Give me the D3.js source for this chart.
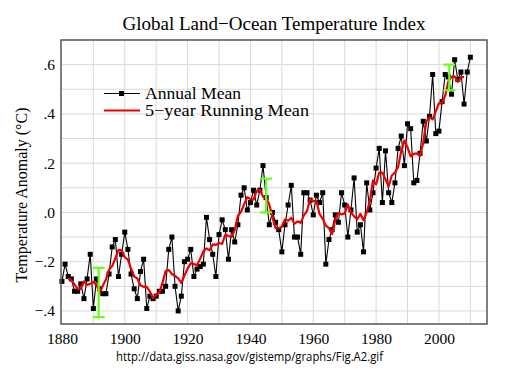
<!DOCTYPE html>
<html>
<head>
<meta charset="utf-8">
<script src="https://cdn.jsdelivr.net/npm/d3@7"></script>
<style>
  html, body { margin: 0; padding: 0; background: #fff; }
  svg { display: block; }
</style>
</head>
<body>
<svg id="chart" width="509" height="381"></svg>
<script>
// ---- data ----
const years = d3.range(1880, 2011);
const annualMean = [
  -0.28,-0.21,-0.26,-0.27,-0.32,-0.32,-0.29,-0.35,-0.27,-0.17,
  -0.39,-0.27,-0.31,-0.33,-0.33,-0.25,-0.14,-0.11,-0.26,-0.17,
  -0.08,-0.15,-0.25,-0.31,-0.35,-0.24,-0.19,-0.39,-0.34,-0.35,
  -0.34,-0.32,-0.32,-0.30,-0.15,-0.10,-0.30,-0.40,-0.34,-0.20,
  -0.19,-0.15,-0.26,-0.23,-0.22,-0.21,-0.02,-0.11,-0.17,-0.26,
  -0.09,-0.03,-0.07,-0.19,-0.07,-0.12,-0.05, 0.07, 0.10, 0.01,
   0.04, 0.09, 0.03, 0.09, 0.19, 0.06,-0.05, 0.00,-0.04,-0.07,
  -0.16,-0.05, 0.03, 0.11,-0.10,-0.10,-0.17, 0.08, 0.08, 0.05,
  -0.01, 0.07, 0.04, 0.08,-0.21,-0.11,-0.07,-0.01,-0.04, 0.08,
   0.03,-0.10, 0.01, 0.14,-0.08,-0.05,-0.16, 0.12, 0.01, 0.08,
   0.18, 0.26, 0.04, 0.25, 0.08, 0.04, 0.12, 0.26, 0.31, 0.19,
   0.36, 0.34, 0.12, 0.13, 0.24, 0.37, 0.29, 0.39, 0.56, 0.32,
   0.33, 0.45, 0.56, 0.55, 0.48, 0.62, 0.54, 0.57, 0.44, 0.57,
   0.63
];
const runYears = d3.range(1882, 2009);
const runningMean = [
  -0.268,-0.276,-0.292,-0.310,-0.310,-0.280,-0.294,-0.290,-0.282,-0.294,
  -0.326,-0.298,-0.272,-0.232,-0.218,-0.186,-0.152,-0.154,-0.182,-0.192,
  -0.228,-0.260,-0.268,-0.296,-0.302,-0.302,-0.322,-0.348,-0.334,-0.326,
  -0.286,-0.238,-0.234,-0.250,-0.258,-0.268,-0.286,-0.256,-0.228,-0.206,
  -0.210,-0.214,-0.188,-0.158,-0.146,-0.154,-0.130,-0.132,-0.124,-0.128,
  -0.090,-0.096,-0.100,-0.072,-0.014, 0.002, 0.034, 0.062, 0.054, 0.052,
   0.088, 0.092, 0.064, 0.058, 0.032,-0.020,-0.064,-0.064,-0.058,-0.028,
  -0.034,-0.022,-0.046,-0.036,-0.042,-0.012, 0.006, 0.054, 0.046, 0.046,
  -0.006,-0.026,-0.054,-0.064,-0.088,-0.030,-0.002,-0.008,-0.004, 0.032,
   0.000,-0.016,-0.028,-0.006,-0.032, 0.000, 0.046, 0.130, 0.114, 0.162,
   0.162, 0.134, 0.106, 0.150, 0.162, 0.184, 0.248, 0.292, 0.264, 0.228,
   0.238, 0.240, 0.230, 0.284, 0.370, 0.386, 0.378, 0.410, 0.444, 0.442,
   0.474, 0.532, 0.550, 0.552, 0.530, 0.548, 0.550
];
const errorYears = [1891.7, 1945, 2003.3];
const errorLow   = [-0.425, 0.000, 0.496];
const errorHigh  = [-0.225, 0.137, 0.600];
const xTickYears = [1880, 1900, 1920, 1940, 1960, 1980, 2000];
const yTickValues = [-0.4, -0.2, 0.0, 0.2, 0.4, 0.6];
const yTickLabels = ["\u2212.4", "\u2212.2", ".0", ".2", ".4", ".6"];
const titleText = "Global Land\u2212Ocean Temperature Index";
const yAxisTitle = "Temperature Anomaly (\u00B0C)";
const legendLabels = ["Annual Mean", "5\u2212year Running Mean"];
const sourceText = "http://data.giss.nasa.gov/gistemp/graphs/Fig.A2.gif";

// ---- layout ----
const svg = d3.select("#chart");
const L = 61, R = 487, T = 40, B = 324;
const x = d3.scaleLinear().domain([1879.7, 2015.3]).range([L, R]);
const y = d3.scaleLinear().domain([-0.453, 0.700]).range([B, T]);
const serif = "'Liberation Serif', 'Times New Roman', serif";

// grid
const grid = svg.append("g");
grid.selectAll("line.v").data(d3.range(1890, 2015, 10)).join("line")
  .attr("x1", d => x(d)).attr("x2", d => x(d)).attr("y1", T).attr("y2", B)
  .attr("stroke", "#d9d9d9").attr("stroke-width", 1);
grid.selectAll("line.h").data(d3.range(-4, 7).map(d => d / 10)).join("line")
  .attr("x1", L).attr("x2", R).attr("y1", d => y(d)).attr("y2", d => y(d))
  .attr("stroke", "#d9d9d9").attr("stroke-width", 1);

// axes (tick labels via d3 axes, no domain lines)
const xAxis = d3.axisBottom(x).tickValues(xTickYears).tickFormat(d3.format("d")).tickSize(0).tickPadding(9);
const gx = svg.append("g").attr("transform", `translate(0,${B})`).call(xAxis);
gx.select(".domain").remove();
gx.selectAll("text").attr("font-family", serif).attr("font-size", 15.5).attr("fill", "#000");

const yAxis = d3.axisLeft(y).tickValues(yTickValues)
  .tickFormat((d, i) => yTickLabels[i]).tickSize(0).tickPadding(6);
const gy = svg.append("g").attr("transform", `translate(${L},0)`).call(yAxis);
gy.select(".domain").remove();
gy.selectAll("text").attr("font-family", serif).attr("font-size", 15.5).attr("fill", "#000");

// annual mean line + markers
const annual = years.map((yr, i) => [yr, annualMean[i]]);
svg.append("path").datum(annual)
  .attr("d", d3.line().x(d => x(d[0])).y(d => y(d[1])))
  .attr("fill", "none").attr("stroke", "#000").attr("stroke-width", 1.1);
svg.append("g").selectAll("rect").data(annual).join("rect")
  .attr("x", d => x(d[0]) - 2.5).attr("y", d => y(d[1]) - 2.5)
  .attr("width", 5).attr("height", 5).attr("fill", "#000");

// running mean
const running = runYears.map((yr, i) => [yr, runningMean[i]]);
svg.append("path").datum(running)
  .attr("d", d3.line().x(d => x(d[0])).y(d => y(d[1])))
  .attr("fill", "none").attr("stroke", "#ee0000").attr("stroke-width", 2.2)
  .attr("stroke-linejoin", "round");

// uncertainty bars
const eb = svg.append("g").attr("stroke", "#66ff1a").attr("stroke-width", 2.2);
errorYears.forEach((yr, i) => {
  const cx = x(yr);
  eb.append("line").attr("x1", cx).attr("x2", cx).attr("y1", y(errorLow[i])).attr("y2", y(errorHigh[i]));
  eb.append("line").attr("x1", cx - 6).attr("x2", cx + 6).attr("y1", y(errorLow[i])).attr("y2", y(errorLow[i]));
  eb.append("line").attr("x1", cx - 6).attr("x2", cx + 6).attr("y1", y(errorHigh[i])).attr("y2", y(errorHigh[i]));
});

// frame
svg.append("rect").attr("x", L).attr("y", T).attr("width", R - L).attr("height", B - T)
  .attr("fill", "none").attr("stroke", "#555").attr("stroke-width", 1.5);

// legend
const legendWidths = [96, 164];
const lg = svg.append("g");
lg.append("line").attr("x1", 104).attr("x2", 140).attr("y1", 93.5).attr("y2", 93.5)
  .attr("stroke", "#000").attr("stroke-width", 1.1);
lg.append("rect").attr("x", 119).attr("y", 91).attr("width", 5).attr("height", 5).attr("fill", "#000");
lg.append("line").attr("x1", 104).attr("x2", 140).attr("y1", 110.5).attr("y2", 110.5)
  .attr("stroke", "#ee0000").attr("stroke-width", 2.2);
lg.selectAll("text").data(legendLabels).join("text")
  .attr("x", 145).attr("y", (d, i) => 98.5 + i * 17.5)
  .attr("font-family", serif).attr("font-size", 17).attr("fill", "#000")
  .attr("textLength", (d, i) => legendWidths[i]).attr("lengthAdjust", "spacingAndGlyphs")
  .text(d => d);

// title
svg.append("text").attr("x", 274).attr("y", 30).attr("text-anchor", "middle")
  .attr("font-family", serif).attr("font-size", 19).attr("fill", "#000").text(titleText);

// y axis title
svg.append("text").attr("transform", "translate(27,195) rotate(-90)")
  .attr("text-anchor", "middle").attr("font-family", serif).attr("font-size", 16)
  .attr("fill", "#000").text(yAxisTitle);

// source
svg.append("text").attr("x", 249.5).attr("y", 361).attr("text-anchor", "middle")
  .attr("font-family", "'Open Sans', 'Noto Sans', sans-serif").attr("font-size", 12)
  .attr("textLength", 267).attr("lengthAdjust", "spacingAndGlyphs")
  .attr("fill", "#000").text(sourceText);
</script>
</body>
</html>
